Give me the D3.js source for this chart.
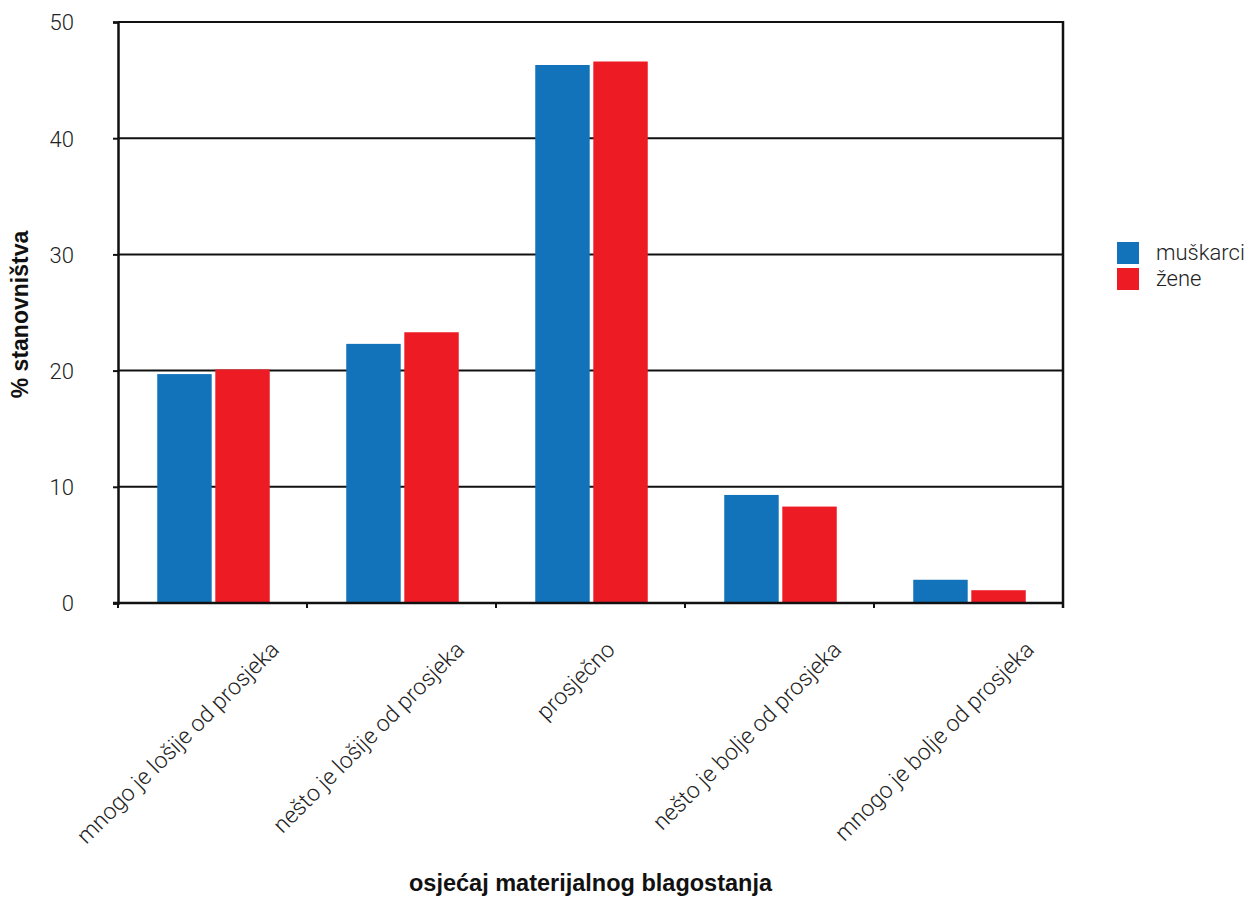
<!DOCTYPE html>
<html>
<head>
<meta charset="utf-8">
<script src="https://cdn.jsdelivr.net/npm/d3@7"></script>
<style>
  body { margin: 0; background: #fff; }
  svg { display: block; }
  text { font-family: "Liberation Sans", Arial, sans-serif; }
  .lt { font-family: Roboto, "Liberation Sans", Arial, sans-serif; font-weight: 300; }
</style>
</head>
<body>
<svg id="chart" width="1251" height="897"></svg>
<script>
// ---- data ----
const categories = [
  "mnogo je lošije od prosjeka",
  "nešto je lošije od prosjeka",
  "prosječno",
  "nešto je bolje od prosjeka",
  "mnogo je bolje od prosjeka"
];
const seriesNames = ["muškarci", "žene"];
const muskarci = [19.7, 22.3, 46.3, 9.3, 2.0];
const zene = [20.1, 23.3, 46.6, 8.3, 1.1];
const yTicks = [0, 10, 20, 30, 40, 50];
const colors = ["#1273ba", "#ed1c24"];
const xTitle = "osjećaj materijalnog blagostanja";
const yTitle = "% stanovništva";

// ---- layout ----
(function () {
const svg = d3.select("#chart");
const pL = 118, pR = 1063, pT = 22, pB = 603;

const x0 = d3.scaleBand().domain(categories).range([pL, pR]).padding(0);
const groupW = 112.5;
const x1 = d3.scaleBand().domain(seriesNames).range([0, groupW]).paddingInner(0.062);
const y = d3.scaleLinear().domain([0, 50]).range([pB, pT]);

const valuesBySeries = [muskarci, zene];
const rows = categories.map((c, i) => ({
  cat: c,
  vals: seriesNames.map((s, j) => ({ s, v: valuesBySeries[j][i], j }))
}));

// gridlines
svg.append("g").selectAll("line").data(yTicks.filter(t => t > 0)).join("line")
  .attr("x1", pL).attr("x2", pR)
  .attr("y1", d => y(d)).attr("y2", d => y(d))
  .attr("stroke", "#111").attr("stroke-width", 2);

// bars
const offset = (x0.bandwidth() - groupW) / 2 + 1;
svg.append("g").selectAll("g").data(rows).join("g")
  .attr("transform", d => `translate(${x0(d.cat) + offset},0)`)
  .selectAll("rect").data(d => d.vals).join("rect")
  .attr("x", d => x1(d.s))
  .attr("width", x1.bandwidth())
  .attr("y", d => y(d.v))
  .attr("height", d => y(0) - y(d.v))
  .attr("fill", d => colors[d.j]);

// left axis
const yAxis = d3.axisLeft(y).tickValues(yTicks).tickSize(5).tickPadding(39).tickFormat(d3.format("d"));
const gy = svg.append("g").attr("transform", `translate(${pL},0)`).call(yAxis);
gy.select(".domain").attr("stroke", "#111").attr("stroke-width", 2.5);
gy.selectAll(".tick line").attr("stroke", "#111").attr("stroke-width", 2);
gy.selectAll(".tick text").attr("class", "lt").attr("font-size", 22).attr("fill", "#222")
  .attr("font-family", null).attr("dy", "0.36em");

// right frame
svg.append("line").attr("x1", pR).attr("x2", pR).attr("y1", pT - 1).attr("y2", pB + 5)
  .attr("stroke", "#111").attr("stroke-width", 2.5);

// bottom axis with boundary ticks
const gx = svg.append("g");
gx.append("line").attr("x1", pL - 5).attr("x2", pR).attr("y1", pB).attr("y2", pB)
  .attr("stroke", "#111").attr("stroke-width", 2.5);
const boundaries = categories.map(c => x0(c)).concat([x0.range()[1]]);
gx.selectAll("line.tk").data(boundaries).join("line").attr("class", "tk")
  .attr("x1", d => d).attr("x2", d => d).attr("y1", pB).attr("y2", pB + 5)
  .attr("stroke", "#111").attr("stroke-width", 2);

// category labels rotated
const labels = gx.selectAll("text.cl").data(categories).join("text").attr("class", "cl lt")
  .attr("font-size", 23).attr("fill", "#222").attr("text-anchor", "end")
  .text(d => d);
labels.each(function (d) {
  const L = this.getComputedTextLength();
  const cx = x0(d) + x0.bandwidth() / 2;
  const bx = cx + 0.24 * L + 2;
  const by = 651;
  d3.select(this).attr("transform", `translate(${bx},${by}) rotate(-45)`);
});

// axis titles
svg.append("text").attr("x", (pL + pR) / 2).attr("y", 891)
  .attr("text-anchor", "middle").attr("font-size", 23.5).attr("font-weight", "bold").attr("fill", "#111")
  .text(xTitle);
svg.append("text").attr("transform", `translate(28,${(pT + pB) / 2 + 2}) rotate(-90)`)
  .attr("text-anchor", "middle").attr("font-size", 23).attr("font-weight", "bold").attr("fill", "#111")
  .text(yTitle);

// legend
const lg = svg.append("g").attr("transform", "translate(1117,242)");
const li = lg.selectAll("g").data(seriesNames).join("g")
  .attr("transform", (d, i) => `translate(0,${i * 26})`);
li.append("rect").attr("width", 22).attr("height", 22).attr("fill", (d, i) => colors[i]);
li.append("text").attr("class", "lt").attr("x", 39).attr("y", 17.5).attr("font-size", 22).attr("fill", "#222").text(d => d);
})();
</script>
</body>
</html>
